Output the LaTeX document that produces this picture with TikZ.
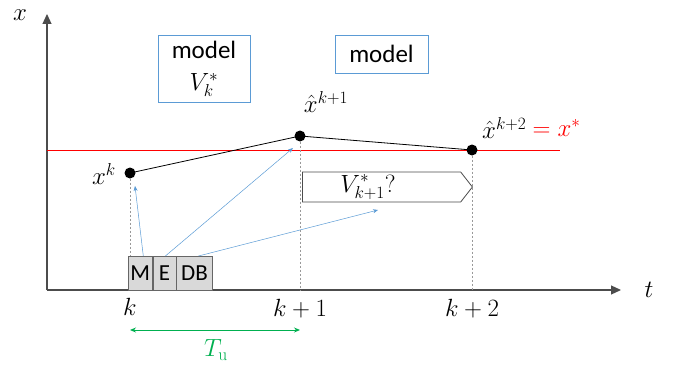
\documentclass[tikz,border=0pt]{standalone}
\usepackage{fontspec}
\newfontfamily\carlitofont{Carlito}
\usetikzlibrary{arrows.meta,shapes.symbols}
\definecolor{mblue}{RGB}{91,155,213}
\definecolor{mgreen}{RGB}{0,176,80}
\definecolor{mgray}{RGB}{217,217,217}
\begin{document}
\begin{tikzpicture}[x=1pt,y=-1pt,
  axis/.style={draw=black!70,line width=1.2pt,-{Triangle[length=10pt,width=9pt]}},
  guide/.style={draw=black!40,line width=0.4pt,dash pattern=on 2pt off 2pt},
  dot/.style={circle,fill=black,inner sep=0pt,minimum size=11pt},
  modelbox/.style={draw=mblue,line width=0.8pt,fill=white,font=\carlitofont\fontsize{25}{28}\selectfont,align=center},
  mebox/.style={draw=black!60,fill=mgray,line width=0.6pt,minimum height=34pt,inner sep=0pt,font=\carlitofont\fontsize{23}{26}\selectfont},
  barrow/.style={draw=mblue,line width=0.5pt,-{Stealth[length=5pt,width=4pt]}},
  lbl/.style={font=\fontsize{25}{30}\selectfont,inner sep=0pt}
]
\useasboundingbox (0,0) rectangle (678,369);
% axes
\coordinate (O) at (47,290);
\coordinate (xend) at (621,290);
\coordinate (yend) at (47,14);
\draw[axis] (O) -- (xend);
\draw[axis] (O) -- (yend);
\node[lbl] (xl) at (20,15) {$x$};
\node[lbl] (tl) at (649,290) {$t$};
% red line
\coordinate (r0) at (47,150);
\coordinate (r1) at (560,150);
\draw[red,line width=0.8pt] (r0) -- (r1);
% points
\node[dot] (p0) at (130,173) {};
\node[dot] (p1) at (300,136) {};
\node[dot] (p2) at (472,150) {};
\draw[black,line width=0.8pt] (p0.center) -- (p1.center) -- (p2.center);
% ME DB boxes
\node[mebox,minimum width=24pt,anchor=north west] (M) at (128,256) {M};
\node[mebox,minimum width=23pt,anchor=north west] (E) at (M.north east) {E};
\node[mebox,minimum width=36pt,anchor=north west] (DB) at (E.north east) {DB};
% guides
\coordinate (g1) at (300,290);
\coordinate (g2) at (472,290);
\draw[guide] (p0) -- (M.north -| p0);
\draw[guide] (p1) -- (g1);
\draw[guide] (p2) -- (g2);
% labels
\node[lbl] (lk) at (104,174) {$x^k$};
\node[lbl] (lk1) at (326,102) {$\hat{x}^{k+1}$};
\node[lbl,anchor=west] (lk2) at (482,128) {$\hat{x}^{k+2}$};
\node[lbl,anchor=west,text=red] (eq) at ([xshift=6pt]lk2.east) {$=x^*$};
\node[lbl] (tk) at (130,307) {$k$};
\node[lbl] (tk1) at (300,309) {$k+1$};
\node[lbl] (tk2) at (472,309) {$k+2$};
% model boxes
\node[modelbox,minimum width=92pt,minimum height=67pt,inner sep=2pt] (m1) at (204,68.5) {model\\[4pt]$V_k^*$};
\node[modelbox,minimum width=93pt,minimum height=38pt] (m2) at (381.5,54) {model};
% pentagon arrow
\node[draw=black!70,line width=0.8pt,fill=white,signal,signal to=east,signal pointer angle=104,
  minimum width=170pt,minimum height=30pt,inner sep=0pt,anchor=west] (sig) at (302,187) {};
\node[lbl] (sigl) at (368,187) {$V_{k+1}^*?$};
% blue arrows
\coordinate (b1) at (135,186);
\coordinate (b2) at (293,148);
\coordinate (b3) at (378,210);
\draw[barrow] ([xshift=3pt]M.north) -- (b1);
\draw[barrow] ([xshift=1pt]E.north) -- (b2);
\draw[barrow] ([xshift=4pt]DB.north) -- (b3);
% Tu
\coordinate (t0) at (130,330);
\coordinate (t1) at (300,330);
\draw[mgreen,line width=0.9pt,{Stealth[length=6pt,width=5pt]}-{Stealth[length=6pt,width=5pt]}] (t0) -- (t1);
\node[lbl,text=mgreen] (tu) at (216,350) {$T_{\mathrm{u}}$};
\end{tikzpicture}
\end{document}
